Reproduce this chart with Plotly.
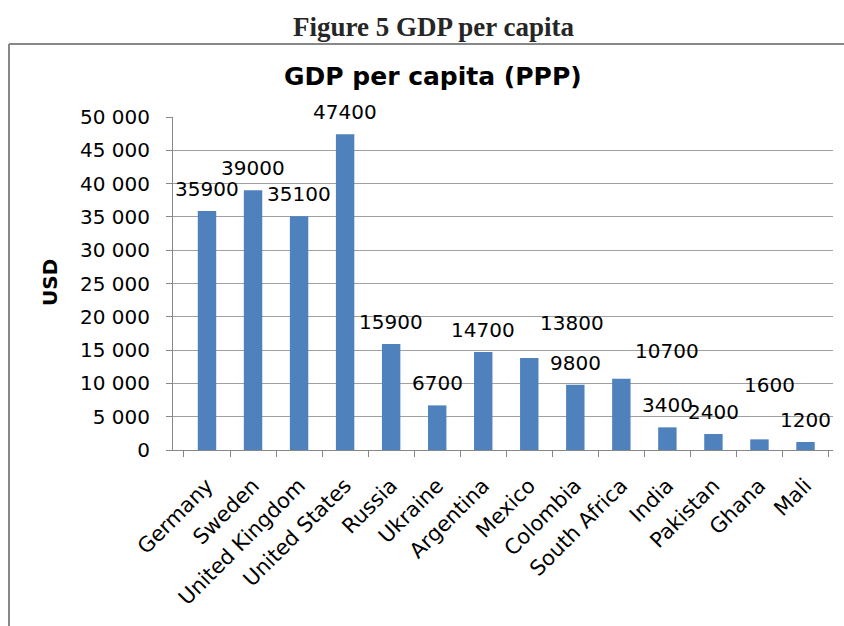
import plotly.graph_objects as go

# ---- data ----
countries = ["Germany", "Sweden", "United Kingdom", "United States", "Russia",
             "Ukraine", "Argentina", "Mexico", "Colombia", "South Africa",
             "India", "Pakistan", "Ghana", "Mali"]
gdp_ppp = [35900, 39000, 35100, 47400, 15900, 6700, 14700, 13800, 9800,
           10700, 3400, 2400, 1600, 1200]
y_ticks = [0, 5000, 10000, 15000, 20000, 25000, 30000, 35000, 40000, 45000, 50000]
y_tick_labels = ["0", "5 000", "10 000", "15 000", "20 000", "25 000", "30 000",
                 "35 000", "40 000", "45 000", "50 000"]

# label nudges (pixels) for the labels that were moved by hand in the original
label_nudge = {"Mexico": (43, 35), "South Africa": (46, 28), "Ghana": (10, 54)}
default_lift = 22

W, H = 844, 626
px = lambda x: x / W
py = lambda y: (H - y) / H

fig = go.Figure()
fig.add_trace(go.Bar(
    x=countries, y=gdp_ppp,
    marker=dict(color="#4F81BD", line=dict(width=0)),
    hoverinfo="x+y",
))

annotations = []
for c, v in zip(countries, gdp_ppp):
    dx, dy = label_nudge.get(c, (0, default_lift))
    annotations.append(dict(
        x=c, y=v, xref="x", yref="y", text=str(v), showarrow=False,
        xanchor="center", yanchor="middle", xshift=dx, yshift=dy,
        font=dict(family="DejaVu Sans", size=20, color="#000000"),
    ))

annotations += [
    dict(text="<b>Figure 5 GDP per capita</b>", x=px(433), y=py(27), xref="paper", yref="paper",
         showarrow=False, xanchor="center", yanchor="middle",
         font=dict(family="Liberation Serif", size=27, color="#262626")),
    dict(text="<b>GDP per capita (PPP)</b>", x=px(433), y=py(77), xref="paper", yref="paper",
         showarrow=False, xanchor="center", yanchor="middle",
         font=dict(family="DejaVu Sans", size=25, color="#000000")),
    dict(text="<b>USD</b>", x=px(50), y=py(283), xref="paper", yref="paper",
         showarrow=False, xanchor="center", yanchor="middle", textangle=-90,
         font=dict(family="DejaVu Sans", size=20, color="#000000")),
]

fig.update_layout(
    width=W, height=H,
    margin=dict(l=0, r=0, t=0, b=0),
    paper_bgcolor="white", plot_bgcolor="white",
    showlegend=False,
    bargap=0.6,
    annotations=annotations,
    shapes=[
        dict(type="line", xref="paper", yref="paper", x0=px(9), x1=px(850),
             y0=py(44), y1=py(44), line=dict(color="#878787", width=2)),
        dict(type="line", xref="paper", yref="paper", x0=px(9), x1=px(9),
             y0=py(44), y1=py(630), line=dict(color="#878787", width=2)),
    ],
    xaxis=dict(
        domain=[px(173), px(833)], type="category",
        tickangle=-45, tickson="boundaries", ticks="outside", ticklen=6,
        tickcolor="#878787", showline=True, linecolor="#878787", linewidth=1,
        showgrid=False, automargin=False, ticklabelstandoff=14,
        tickfont=dict(family="DejaVu Sans", size=21, color="#000000"),
    ),
    yaxis=dict(
        domain=[py(450), py(117)], range=[0, 50000],
        tickvals=y_ticks, ticktext=y_tick_labels,
        ticks="outside", ticklen=6, tickcolor="#878787",
        showline=True, linecolor="#878787", linewidth=1,
        showgrid=True, gridcolor="#a0a0a0", gridwidth=1, zeroline=False,
        automargin=False, ticklabelstandoff=12,
        tickfont=dict(family="DejaVu Sans", size=20, color="#000000"),
    ),
)

fig.write_html(
    "out.html",
    config={"displayModeBar": False},
    post_script="document.body.style.margin='0';document.body.style.overflow='hidden';",
)
